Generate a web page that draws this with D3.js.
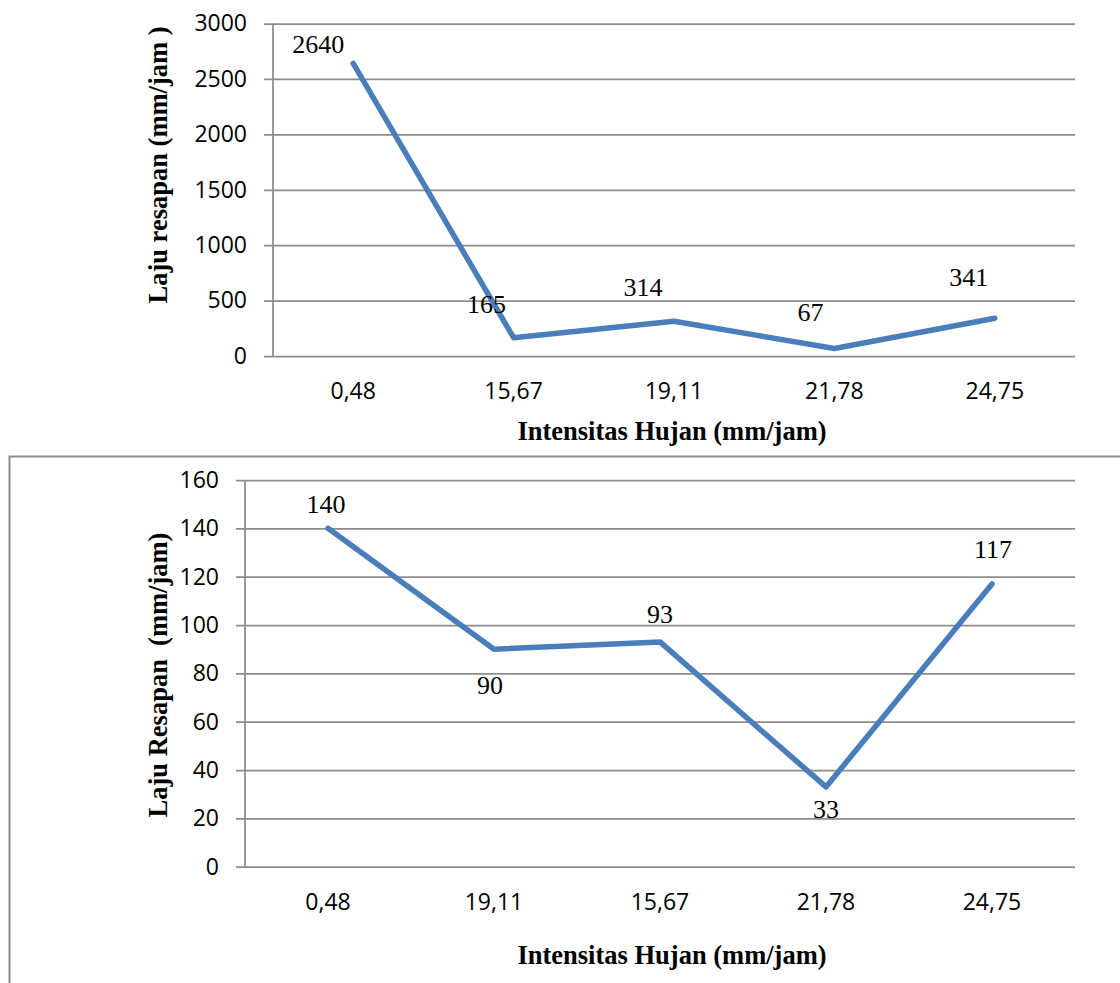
<!DOCTYPE html>
<html>
<head>
<meta charset="utf-8">
<script src="https://cdn.jsdelivr.net/npm/d3@7"></script>
<style>
  html, body { margin: 0; padding: 0; background: #fff; }
  svg { display: block; }
</style>
</head>
<body>
<script>
// Upper chart: infiltration rate vs rainfall intensity
const topCategories = ["0,48", "15,67", "19,11", "21,78", "24,75"];
const topValues = [2640, 165, 314, 67, 341];
const topTicks = [0, 500, 1000, 1500, 2000, 2500, 3000];

// Lower chart: infiltration rate vs rainfall intensity
const bottomCategories = ["0,48", "19,11", "15,67", "21,78", "24,75"];
const bottomValues = [140, 90, 93, 33, 117];
const bottomTicks = [0, 20, 40, 60, 80, 100, 120, 140, 160];

// Where each value label sits relative to its point (dx, dy)
const topLabelOffsets = [[-35, -19], [-27, -33], [-31, -34], [-24, -36], [-26, -41]];
const bottomLabelOffsets = [[-2, -24], [-4, 36], [0, -27], [0, 23], [1, -34]];

const W = 1120, H = 983;
const svg = d3.select("body").append("svg")
  .attr("width", W).attr("height", H);

const GRID = "#8c8c8c";
const LINE = "#4a7ebb";
const TICK_FONT = "'Open Sans', 'Noto Sans', sans-serif";
const SERIF = "'Liberation Serif', 'Times New Roman', serif";

// Frame around the lower chart
svg.append("rect")
  .attr("x", 9.5).attr("y", 456.5)
  .attr("width", 1200).attr("height", 600)
  .attr("fill", "none")
  .attr("stroke", GRID)
  .attr("stroke-width", 2);

function drawChart(cfg) {
  const g = svg.append("g");
  const x = d3.scaleBand().domain(cfg.categories).range([cfg.left, cfg.right]);
  const y = d3.scaleLinear().domain([0, d3.max(cfg.ticks)]).range([cfg.bottom, cfg.top]);

  // Horizontal gridlines with outward tick marks
  const yAxis = d3.axisLeft(y)
    .tickValues(cfg.ticks)
    .tickSize(-(cfg.right - cfg.left))
    .tickPadding(26)
    .tickFormat(d3.format("d"));
  const ya = g.append("g")
    .attr("transform", `translate(${cfg.left},0)`)
    .call(yAxis);
  ya.select(".domain").remove();
  ya.selectAll(".tick line")
    .attr("x1", -9)
    .attr("stroke", GRID)
    .attr("stroke-width", 1.75);
  ya.selectAll(".tick text")
    .attr("font-family", TICK_FONT)
    .attr("font-size", 23)
    .attr("fill", "#000");

  // Vertical axis line
  g.append("line")
    .attr("x1", cfg.left).attr("x2", cfg.left)
    .attr("y1", y(d3.max(cfg.ticks))).attr("y2", y(0))
    .attr("stroke", GRID).attr("stroke-width", 1.75);

  // Category labels
  const xAxis = d3.axisBottom(x).tickSize(0).tickPadding(0);
  const xa = g.append("g")
    .attr("transform", `translate(0,${cfg.xLabelBaseline})`)
    .call(xAxis);
  xa.select(".domain").remove();
  xa.selectAll(".tick text")
    .attr("dy", 0)
    .attr("y", 0)
    .attr("font-family", TICK_FONT)
    .attr("font-size", 23)
    .attr("fill", "#000");

  // Data line
  const pts = cfg.values.map((v, i) => ({
    cx: x(cfg.categories[i]) + x.bandwidth() / 2,
    cy: y(v),
    v
  }));
  g.append("path")
    .datum(pts)
    .attr("fill", "none")
    .attr("stroke", LINE)
    .attr("stroke-width", 5.5)
    .attr("stroke-linejoin", "round")
    .attr("stroke-linecap", "round")
    .attr("d", d3.line().x(d => d.cx).y(d => d.cy));

  // Value labels
  g.selectAll("text.val")
    .data(pts)
    .join("text")
    .attr("class", "val")
    .attr("x", (d, i) => d.cx + cfg.labelOffsets[i][0])
    .attr("y", (d, i) => d.cy + cfg.labelOffsets[i][1])
    .attr("text-anchor", "middle")
    .attr("dominant-baseline", "central")
    .attr("font-family", SERIF)
    .attr("font-size", 26)
    .attr("fill", "#000")
    .text(d => d.v);

  // Axis titles
  g.append("text")
    .attr("x", cfg.xTitle[0]).attr("y", cfg.xTitle[1])
    .attr("text-anchor", "middle")
    .attr("font-family", SERIF)
    .attr("font-weight", "bold")
    .attr("font-size", 26.5)
    .attr("fill", "#000")
    .text("Intensitas Hujan (mm/jam)");

  g.append("text")
    .attr("transform", `translate(${cfg.yTitle[0]},${cfg.yTitle[1]}) rotate(-90)`)
    .attr("text-anchor", "middle")
    .attr("dominant-baseline", "central")
    .attr("font-family", SERIF)
    .attr("font-weight", "bold")
    .attr("font-size", 26.5)
    .attr("fill", "#000")
    .style("white-space", "pre")
    .text(cfg.yTitleText);
}

drawChart({
  categories: topCategories,
  values: topValues,
  ticks: topTicks,
  labelOffsets: topLabelOffsets,
  left: 273, right: 1075, top: 23.5, bottom: 356,
  xLabelBaseline: 399,
  xTitle: [672, 440],
  yTitle: [158, 165],
  yTitleText: "Laju resapan (mm/jam )"
});

drawChart({
  categories: bottomCategories,
  values: bottomValues,
  ticks: bottomTicks,
  labelOffsets: bottomLabelOffsets,
  left: 245, right: 1075, top: 480, bottom: 866.7,
  xLabelBaseline: 910,
  xTitle: [672, 964],
  yTitle: [158, 675],
  yTitleText: "Laju Resapan  (mm/jam)"
});
</script>
</body>
</html>
